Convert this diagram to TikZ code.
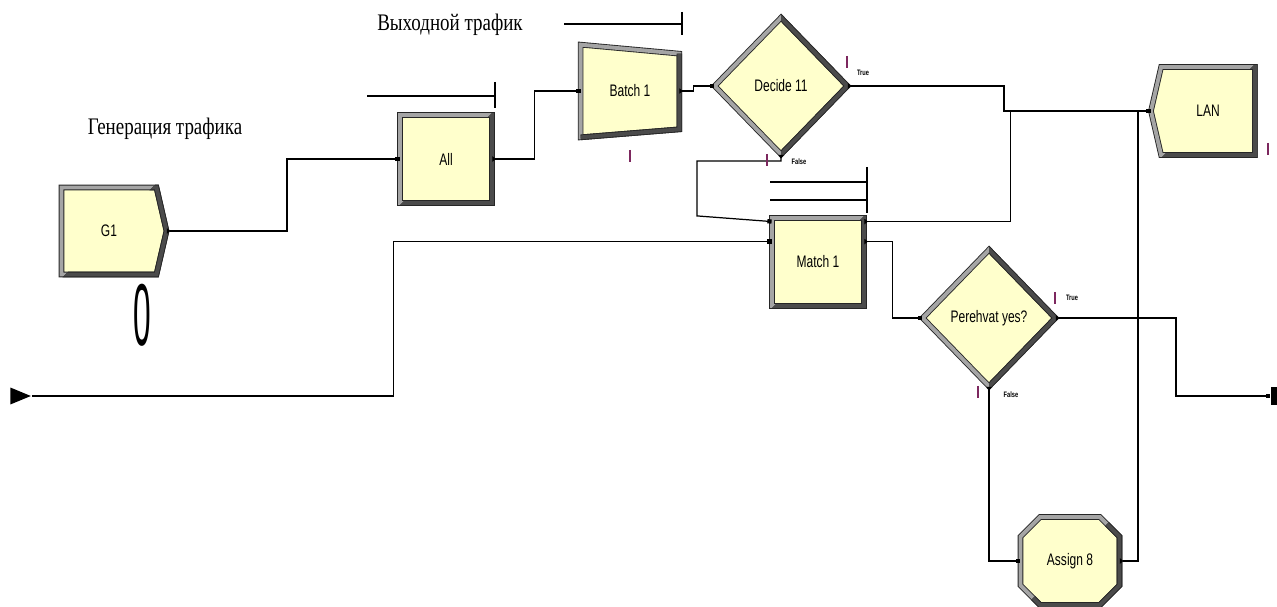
\documentclass[tikz,border=0pt]{standalone}
\usepackage{fontspec}
\setmainfont{Liberation Serif}
\newfontfamily\labelfont[FakeStretch=0.72]{Liberation Sans}
\newfontfamily\notefont[FakeStretch=0.8]{Liberation Serif}
\usetikzlibrary{arrows.meta,positioning,shapes.geometric,shapes.symbols,shapes.misc,calc,backgrounds}

\definecolor{cream}{RGB}{255,255,204}
\definecolor{bevel}{RGB}{165,165,165}
\definecolor{shadow}{RGB}{75,75,75}
\definecolor{counter}{RGB}{125,40,95}

% redraw the lower right half of a module border in the dark bevel colour
\newcommand{\darkside}[4]{%
  \begin{scope}
    \clip ($(#1.center)+(-#3,300)$) -- ($(#1.center)+(#3,-300)$)
      -- ($(#1.center)+(400,-300)$) -- ($(#1.center)+(400,300)$) -- cycle;
    \node[#2, double=shadow, fill=none, text opacity=0] at (#1.center) {#4};
  \end{scope}}

\begin{document}
\begin{tikzpicture}[
  x=0.02cm, y=-0.02cm,
  module/.style={draw=black!85, double=bevel, double distance=2.2pt,
                 line width=0.5pt, fill=cream, inner sep=1pt, align=center,
                 font=\labelfont\fontsize{9.5}{11}\selectfont},
  create/.style={module, signal, signal to=east, signal pointer angle=154,
                 minimum width=2.1cm, minimum height=1.74cm},
  dispose/.style={module, signal, signal to=west, signal pointer angle=154,
                  minimum width=2.08cm, minimum height=1.76cm},
  process/.style={module, rectangle, minimum width=1.84cm, minimum height=1.76cm},
  decide/.style={module, diamond, minimum width=2.66cm, minimum height=2.74cm},
  assign/.style={module, chamfered rectangle, chamfered rectangle xsep=0.2cm,
                 chamfered rectangle ysep=0.2cm,
                 minimum width=1.98cm, minimum height=1.76cm},
  tray/.style={inner sep=0pt, minimum width=1.96cm, minimum height=1.84cm,
               font=\labelfont\fontsize{9.5}{11}\selectfont},
  dark/.style={draw=black!85, double=shadow, double distance=2.2pt, line width=0.5pt},
  link/.style={draw, line width=0.7pt,
               {Triangle[reversed,length=2pt,width=3pt]}-{Square[length=2.4pt,width=2.4pt]}},
  feed/.style={draw, line width=0.7pt, -{Square[length=2.4pt,width=2.4pt]}},
  queue/.style={line width=0.7pt},
  tally/.style={draw=counter, line width=1pt},
  branch/.style={inner sep=0pt, font=\labelfont\bfseries\fontsize{4.5}{5}\selectfont},
  heading/.style={inner sep=0pt, font=\notefont\fontsize{13.5}{15}\selectfont},
]
\useasboundingbox (0,0) rectangle (1277,607);

%% modules
\node[create]  (g1)       at (109,231)  {G1};
\node[process] (all)      at (446,159)  {All};
\node[tray]    (batch)    at (630,91)   {Batch 1};
\node[decide]  (decide)   at (781,86)   {Decide 11};
\node[process] (match)    at (818,262)  {Match 1};
\node[decide]  (perehvat) at (989,318)  {Perehvat yes?};
\node[dispose] (lan)      at (1208,111) {LAN};
\node[assign]  (assign)   at (1070,561) {Assign 8};

% batch is a tapered box
\begin{scope}[on background layer]
  \draw[module] (batch.north west) -- ($(batch.north east)+(0,9)$)
    -- ($(batch.south east)+(0,-8)$) -- (batch.south west) -- cycle;
  \draw[dark] ($(batch.north east)+(0,9)$) -- ($(batch.south east)+(0,-8)$)
    -- (batch.south west);
\end{scope}

\darkside{g1}{create}{300}{G1}
\darkside{all}{process}{300}{All}
\darkside{match}{process}{300}{Match 1}
\darkside{lan}{dispose}{300}{LAN}
\darkside{assign}{assign}{300}{Assign 8}
\darkside{decide}{decide}{0}{Decide 11}
\darkside{perehvat}{decide}{0}{Perehvat yes?}

%% terminals of the main line
\node[isosceles triangle, fill=black, inner sep=0pt,
      minimum height=0.22cm, minimum width=0.34cm] (src) at (16,396) {};
\node[rectangle, fill=black, inner sep=0pt,
      minimum width=0.14cm, minimum height=0.36cm] (sink) at (1274,396) {};

%% ports of match
\coordinate (match in1)  at ($(match.north west)+(0,4)$);
\coordinate (match in2)  at ($(match.north west)+(0,24)$);
\coordinate (match out1) at ($(match.north east)+(0,4)$);
\coordinate (match out2) at ($(match.north east)+(0,24)$);

%% connectors
\draw[link] (g1.east) -- ++(120,0) |- (all.west);
\draw[link] (all.east) -- ++(42,0) |- (batch.west);
\draw[link] (batch.east) -- ++(14,0) |- (decide.west);
\draw[link] (decide.east) -- ++(156,0) |- (lan.west);
\draw[link] (decide.south) -- ++(0,6) -| ++(-84,55) -- (match in1);
\draw[link] (match out1) -- ++(146,0) |- (lan.west);
\draw[link] (match out2) -- ++(28,0) |- (perehvat.west);
\draw[feed] (src.east) -| ($(match in2)+(-378,0)$) -- (match in2);
\draw[link] (perehvat.east) -- ++(120,0) |- (sink.west);
\draw[link] (perehvat.south) |- (assign.west);
\draw[link] (assign.east) -- ++(18,0) |- (lan.west);

%% queues
\draw[queue] (367,96) -- (495,96) (495,82) -- (495,108);
\draw[queue] (564,24) -- (682,24) (682,12) -- (682,35);
\draw[queue] (770,182) -- (867,182) (770,200) -- (867,200) (867,167) -- (867,213);

%% counters
\draw[tally] (630,150) -- (630,162);
\draw[tally] (847,56) -- (847,68);
\draw[tally] (767,154) -- (767,166);
\draw[tally] (1055,292) -- (1055,304);
\draw[tally] (978,386) -- (978,398);
\draw[tally] (1268,143) -- (1268,155);
\node[xscale=0.5, inner sep=0pt, font=\labelfont\fontsize{50}{50}\selectfont]
  (g1 count) at (142,315) {0};

%% branch labels
\node[branch] (decide true)    at (863,73)   {True};
\node[branch] (decide false)   at (799,162)  {False};
\node[branch] (perehvat true)  at (1072,298) {True};
\node[branch] (perehvat false) at (1011,395) {False};

%% titles
\node[heading] (gen title) at (165,129) {Генерация трафика};
\node[heading] (out title) at (450,25)  {Выходной трафик};

\end{tikzpicture}
\end{document}
